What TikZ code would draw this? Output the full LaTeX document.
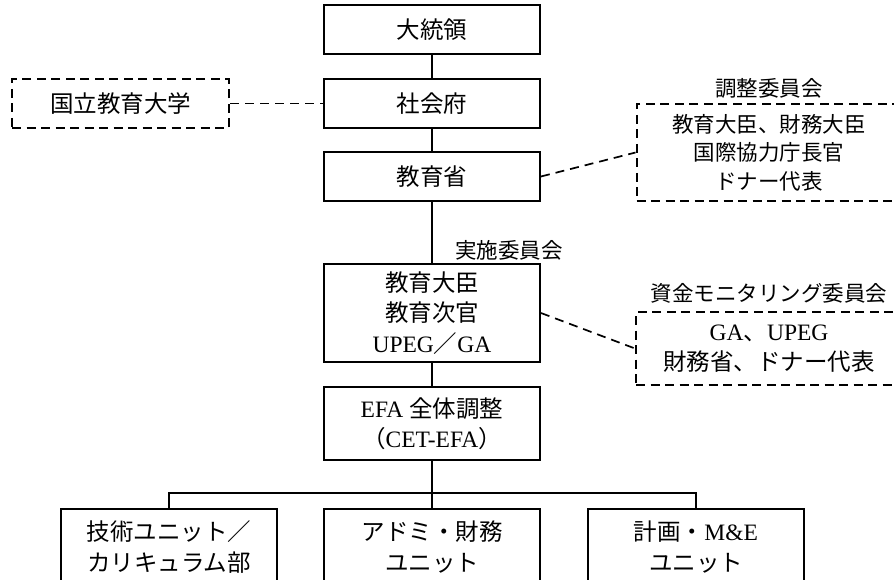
\documentclass[tikz,border=0pt]{standalone}
\usepackage{fontspec}
\setmainfont{Liberation Serif}
\newfontfamily\jpn{Noto Sans CJK JP}
\newcommand{\jt}[1]{{\jpn #1}}
\tikzset{
  box/.style={draw, line width=2pt, minimum width=216pt, align=center, inner sep=0pt,
    font=\fontsize{23.5}{30.5}\selectfont},
  dbox/.style={box, dash pattern=on 9pt off 5.5pt},
  lbl/.style={inner sep=0pt, font=\fontsize{21.5}{24}\selectfont},
  conn/.style={line width=1.7pt},
  dconn/.style={conn, dash pattern=on 9pt off 6pt},
}
\begin{document}
\begin{tikzpicture}[x=1pt,y=-1pt]
\useasboundingbox (0,0) rectangle (894,580);
\begin{scope}
\clip (0,0) rectangle (894,580);
\node[box, minimum height=49pt] (pres) at (432,30) {\jt{大統領}};
\node[box, minimum height=49pt] (soc) at (432,103.5) {\jt{社会府}};
\node[box, minimum height=49pt] (moe) at (432,176.5) {\jt{教育省}};
\node[dbox, minimum width=217pt, minimum height=49pt] (univ) at (120.5,103.5) {\jt{国立教育大学}};
\node[lbl] (coordlbl) at (769,88) {\jt{調整委員会}};
\node[dbox, minimum width=265pt, minimum height=97pt, font=\fontsize{21.5}{28.5}\selectfont] (coordbox) at (769,152.5)
  {\jt{教育大臣、財務大臣}\\ \jt{国際協力庁長官}\\ \jt{ドナー代表}};
\node[box, minimum height=98pt] (impl) at (432,313) {\jt{教育大臣}\\ \jt{教育次官}\\ UPEG\jt{／}GA};
\node[lbl, anchor=west] (impllbl) at (455,250) {\jt{実施委員会}};
\node[lbl] (fundlbl) at (769,293) {\jt{資金モニタリング委員会}};
\node[dbox, minimum width=266pt, minimum height=73pt] (fundbox) at (769,348.5)
  {GA\jt{、}UPEG\\ \jt{財務省、ドナー代表}};
\node[box, minimum height=73pt] (efa) at (432,423.5) {EFA \jt{全体調整}\\ \jt{（}CET-EFA\jt{）}};
\node[box, minimum height=76pt] (tech) at (169,547) {\jt{技術ユニット／}\\ \jt{カリキュラム部}};
\node[box, minimum height=76pt] (admin) at (432,547) {\jt{アドミ・財務}\\ \jt{ユニット}};
\node[box, minimum height=76pt] (plan) at (696,547) {\jt{計画・}M\&E\\ \jt{ユニット}};
\coordinate (bus) at (432,493);
\draw[conn] (pres.south) -- (soc.north);
\draw[conn] (soc.south) -- (moe.north);
\draw[conn] (moe.south) -- (impl.north);
\draw[conn] (impl.south) -- (efa.north);
\draw[conn] (efa.south) -- (admin.north);
\draw[conn] (tech.north) |- (bus) -| (plan.north);
\draw[dconn] (univ.east) -- (soc.west);
\draw[dconn] (moe.east) -- (coordbox.west);
\draw[dconn] (impl.east) -- (fundbox.west);
\end{scope}
\end{tikzpicture}
\end{document}
